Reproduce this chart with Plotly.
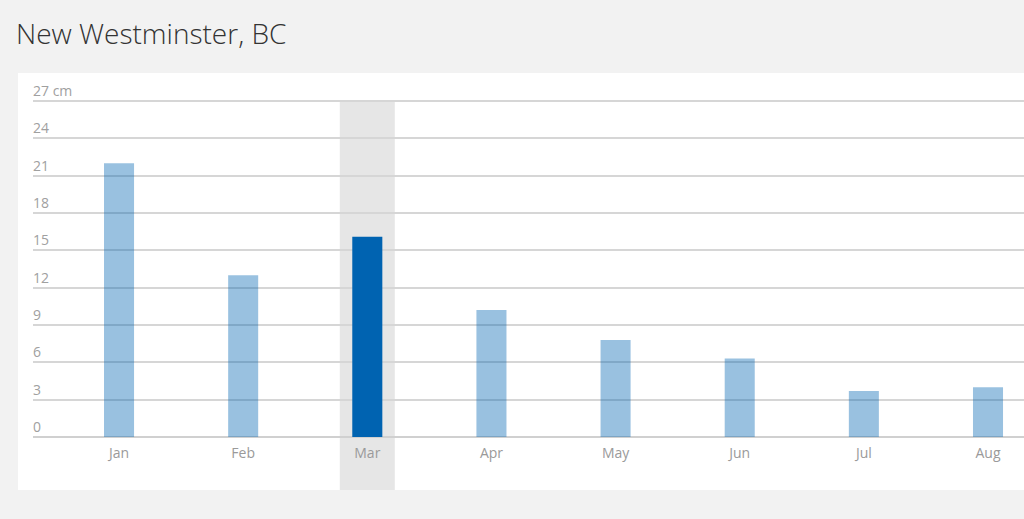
import plotly.graph_objects as go

months = ["Jan", "Feb", "Mar", "Apr", "May", "Jun", "Jul", "Aug"]
snow_cm = [22.0, 13.0, 16.1, 10.2, 7.8, 6.3, 3.7, 4.0]
highlight = "Mar"
y_ticks = [0, 3, 6, 9, 12, 15, 18, 21, 24, 27]
y_labels = ["0", "3", "6", "9", "12", "15", "18", "21", "24", "27 cm"]
title = "New Westminster, BC"

W, H = 1024, 519
L, R, T, B = 33, 0, 76, 82
pw, ph = W - L - R, H - T - B
ymax = ph / (336 / 27)

def px_x(p):
    return (p - L) / pw

def px_y(p):
    return (H - B - p) / ph

colors = ["#0063b1" if m == highlight else "rgba(0,99,177,0.4)" for m in months]

fig = go.Figure()
fig.add_trace(go.Bar(
    x=months, y=snow_cm, width=0.242,
    marker=dict(color=colors, line=dict(width=0)),
    hoverinfo="x+y",
))

hi = months.index(highlight)
fig.update_layout(
    width=W, height=H,
    margin=dict(l=L, r=R, t=T, b=B, pad=0),
    paper_bgcolor="#f2f2f2",
    plot_bgcolor="white",
    showlegend=False,
    font=dict(family="Open Sans", color="#999999", size=14),
    xaxis=dict(
        type="category", range=[-0.693, 7.29], showgrid=False,
        zeroline=False, showline=False, ticks="", ticklen=0,
        ticklabelstandoff=6,
        tickfont=dict(size=14, color="#9a9a9a"),
    ),
    yaxis=dict(
        range=[0, ymax], tickvals=y_ticks, ticktext=y_labels,
        ticklabelposition="inside top", ticklabelstandoff=-3,
        showgrid=True,
        gridcolor="#d6d6d6", gridwidth=1.5, zeroline=True,
        zerolinecolor="#d0d0d0", zerolinewidth=1.5, showline=False,
        tickfont=dict(size=14, color="#a0a0a0"),
    ),
    shapes=[
        dict(type="rect", xref="paper", yref="paper",
             x0=px_x(18), x1=1.0, y0=px_y(490), y1=px_y(73),
             fillcolor="white", line=dict(width=0), layer="below"),
        dict(type="rect", xref="x", yref="paper",
             x0=hi - 0.2215, x1=hi + 0.2215, y0=px_y(490), y1=px_y(101),
             fillcolor="#e6e6e6", line=dict(width=0), layer="between"),
    ],
    annotations=[
        dict(text=title, xref="paper", yref="paper",
             x=px_x(14), y=px_y(33), xanchor="left", yanchor="middle",
             showarrow=False,
             font=dict(family="Open Sans", size=28, color="#333333", weight=300)),
    ],
)

fig.write_html(
    "out.html",
    config={"displayModeBar": False},
    post_script="document.body.style.margin='0';document.body.style.background='#f2f2f2';",
)
